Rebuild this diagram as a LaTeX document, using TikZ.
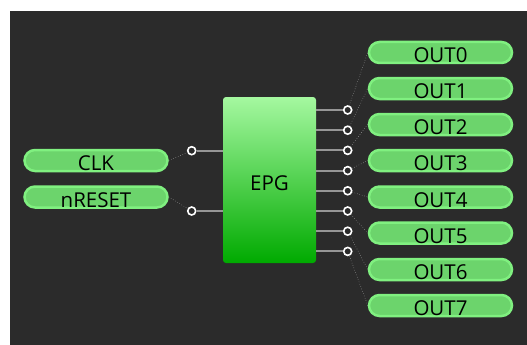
\documentclass[tikz,border=0pt]{standalone}
\usepackage{fontspec}
\usepackage{tikz}
\usetikzlibrary{positioning}
\newfontfamily\uifont{Open Sans}

\definecolor{bgdark}{RGB}{43,43,43}
\definecolor{pillfill}{RGB}{108,212,108}
\definecolor{pilledge}{RGB}{128,240,128}
\definecolor{blktop}{RGB}{165,248,160}
\definecolor{blkbot}{RGB}{0,170,0}
\definecolor{wiregray}{RGB}{150,150,150}

\begin{document}
\begin{tikzpicture}[x=1pt, y=-1pt,
        pill/.style={rectangle, rounded corners=10.5pt, draw=pilledge, fill=pillfill, line width=2.5pt,
                     minimum width=143pt, minimum height=21pt, inner sep=0pt,
                     font=\uifont\fontsize{20.5}{20.5}\selectfont, text height=20pt, text depth=0pt},
        blk/.style={rectangle, rounded corners=3pt, top color=blktop, bottom color=blkbot,
                    minimum width=93pt, minimum height=166pt, inner sep=0pt,
                    font=\uifont\fontsize{20.5}{20.5}\selectfont, text height=20pt, text depth=0pt},
        pin/.style={circle, draw=white, fill=bgdark, line width=1.6pt, minimum size=8pt, inner sep=0pt},
        wire/.style={draw=wiregray, line width=2pt},
        link/.style={draw=gray!70, line width=0.5pt, dotted}
    ]
    \useasboundingbox (0,0) rectangle (527,345);
    \fill[white] (0,0) rectangle (527,345);
    \fill[bgdark] (10,11) rectangle (527,345);
    % bloc central
    \node[blk] (epg) at (269.5,180) {EPG};
    % entrees
    \node[pill] (clk) at (96,160.5) {CLK};
    \node[pill] (nrst) at (96,197) {nRESET};
    \node[pin] (ci1) at (191.7,150.7) {};
    \node[pin] (ci2) at (191.7,211) {};
    % sorties
    \node[pill] (out0) at (440.5,52.5) {OUT0};
    \node[pill] (out1) at (440.5,88.5) {OUT1};
    \node[pill] (out2) at (440.5,124.5) {OUT2};
    \node[pill] (out3) at (440.5,160.5) {OUT3};
    \node[pill] (out4) at (440.5,197) {OUT4};
    \node[pill] (out5) at (440.5,233) {OUT5};
    \node[pill] (out6) at (440.5,269.5) {OUT6};
    \node[pill] (out7) at (440.5,305.5) {OUT7};
    \node[pin] (co0) at (347.7,110) {};
    \node[pin] (co1) at (347.7,130.2) {};
    \node[pin] (co2) at (347.7,150.4) {};
    \node[pin] (co3) at (347.7,170.6) {};
    \node[pin] (co4) at (347.7,190.8) {};
    \node[pin] (co5) at (347.7,211) {};
    \node[pin] (co6) at (347.7,231.2) {};
    \node[pin] (co7) at (347.7,251.4) {};

    \draw[wire] (ci1.east) -- (ci1.east -| epg.west);
    \draw[wire] (ci2.east) -- (ci2.east -| epg.west);
    \draw[wire] (co0.west -| epg.east) -- (co0.west);
    \draw[wire] (co1.west -| epg.east) -- (co1.west);
    \draw[wire] (co2.west -| epg.east) -- (co2.west);
    \draw[wire] (co3.west -| epg.east) -- (co3.west);
    \draw[wire] (co4.west -| epg.east) -- (co4.west);
    \draw[wire] (co5.west -| epg.east) -- (co5.west);
    \draw[wire] (co6.west -| epg.east) -- (co6.west);
    \draw[wire] (co7.west -| epg.east) -- (co7.west);

    \draw[link] (clk.east) -- (ci1);
    \draw[link] (nrst.east) -- (ci2);
    \draw[link] (co0) -- (out0.west);
    \draw[link] (co1) -- (out1.west);
    \draw[link] (co2) -- (out2.west);
    \draw[link] (co3) -- (out3.west);
    \draw[link] (co4) -- (out4.west);
    \draw[link] (co5) -- (out5.west);
    \draw[link] (co6) -- (out6.west);
    \draw[link] (co7) -- (out7.west);
\end{tikzpicture}
\end{document}
